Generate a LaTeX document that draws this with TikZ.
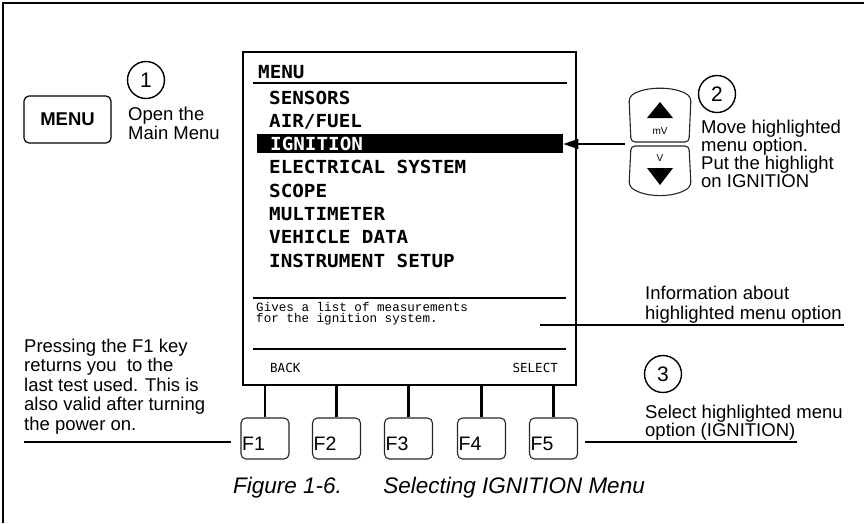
\documentclass[tikz,border=0pt]{standalone}
\usepackage{fontspec}
\setmainfont{Liberation Sans}
\newfontfamily\lcdfont{DejaVu Sans Mono}[FakeStretch=1.07]
\newfontfamily\lcdsoft{DejaVu Sans Mono}
\newfontfamily\lcdthin{Liberation Mono}
\usetikzlibrary{arrows.meta}
\tikzset{
  frameline/.style={line width=2pt},
  hardkey/.style={draw, line width=1.2pt, rounded corners=5pt, inner sep=0pt},
  btn/.style={draw=black!85, line width=1.1pt, rounded corners=4pt},
  fkey/.style={draw=black!85, line width=1.1pt, rounded corners=5pt, minimum width=48pt, minimum height=41pt, inner sep=0pt},
  fkeytext/.style={font=\fontsize{19.5}{19.5}\selectfont, inner sep=0pt, anchor=base west},
  note/.style={inner sep=0pt, anchor=base west, align=left},
  numcirc/.style={circle, draw, line width=1.4pt, minimum size=37pt, inner sep=0pt, font=\fontsize{21}{21}\selectfont},
  lcd/.style={font=\lcdfont\bfseries\fontsize{18}{18}\selectfont, inner sep=0pt, anchor=base west},
  desc/.style={font=\lcdthin\fontsize{12.6}{11}\selectfont, inner sep=0pt, anchor=base west, align=left},
  soft/.style={font=\lcdsoft\fontsize{12.5}{12.5}\selectfont, inner sep=0pt, anchor=base west},
  sep/.style={line width=1.1pt},
  stem/.style={line width=2.7pt},
  lead/.style={line width=1.6pt},
  ptr/.style={line width=1.8pt, -{Triangle[length=15pt, width=10pt]}},
  caption/.style={font=\itshape\fontsize{22.5}{22.5}\selectfont, inner sep=0pt}
}
\begin{document}
\begin{tikzpicture}[x=1pt,y=-1pt]
\useasboundingbox (0,0) rectangle (864,523);
% outer frame (top and left)
\coordinate (ftl) at (3,2.5);
\coordinate (ftr) at (864,2.5);
\coordinate (fbl) at (3,523);
\draw[frameline] (ftr) -- (ftl) -- (fbl);

% step 1
\node[hardkey, minimum width=87pt, minimum height=47pt, font=\bfseries\fontsize{18.5}{18.5}\selectfont] (menukey) at (67.5,119.5) {MENU};
\node[numcirc] (c1) at (146,80) {1};
\node[note, font=\fontsize{18.5}{16}\selectfont] (t1) at (128,139) {Open the\\Main Menu};

% screen
\node[draw, line width=2.4pt, minimum width=333pt, minimum height=333pt, inner sep=0pt] (screen) at (409.5,218.5) {};
\node[lcd] (mhead) at (258,78.3) {MENU};
\draw[sep] (253,83) -- (567,83);
\node[lcd] (m1) at (269,104) {SENSORS};
\node[lcd] (m2) at (269,127.3) {AIR/FUEL};
\node[fill=black, minimum width=306pt, minimum height=19pt, inner sep=0pt, anchor=west] (hl) at (257,143.5) {};
\node[lcd, text=white] (m3) at (270,150.6) {IGNITION};
\node[lcd] (m4) at (269,173.9) {ELECTRICAL SYSTEM};
\node[lcd] (m5) at (269,197.2) {SCOPE};
\node[lcd] (m6) at (269,220.5) {MULTIMETER};
\node[lcd] (m7) at (269,243.8) {VEHICLE DATA};
\node[lcd] (m8) at (269,267.1) {INSTRUMENT SETUP};
\draw[sep] (253,298) -- (566,298);
\node[desc] (dsc) at (256,322.5) {Gives a list of measurements\\for the ignition system.};
\draw[sep] (253,349) -- (566,349);
\node[soft] (back) at (270,372.5) {BACK};
\node[soft, anchor=base east] (select) at (558,372.5) {SELECT};

% function keys
\foreach \i/\x in {1/265,2/336.5,3/408.5,4/481.5,5/553.5} {
  \node[fkey] (f\i) at (\x,438.5) {};
  \node[fkeytext] (fl\i) at ([xshift=1.5pt, yshift=9pt]f\i.south west) {F\i};
  \draw[stem] (screen.south -| f\i.north) -- (f\i.north);
}

% step 2: arrow keys
\draw[btn] (631,142) -- (629,97) .. controls (645,86) and (675,86) .. (691,97) -- (689,142) -- cycle;
\fill (647,118) -- (673,118) -- (660,102) -- cycle;
\node[font=\fontsize{10}{10}\selectfont, inner sep=0pt] (mv) at (660,131) {mV};
\draw[btn] (631,146) -- (689,146) -- (691,186) .. controls (675,198) and (645,198) .. (629,186) -- cycle;
\fill (647,168) -- (673,168) -- (660,185) -- cycle;
\node[font=\fontsize{10}{10}\selectfont, inner sep=0pt] (vv) at (660,158) {V};
\coordinate (arrstart) at (625,144);
\draw[ptr] (arrstart) -- (arrstart -| hl.east);
\node[numcirc] (c2) at (717,94) {2};
\node[note, font=\fontsize{18.5}{16}\selectfont] (t2) at (701,187.5) {Move highlighted\\menu option.\\Put the highlight\\on IGNITION};

% information text
\node[note, font=\fontsize{18.5}{20}\selectfont] (info) at (645,319.5) {Information about\\highlighted menu option};
\coordinate (infoL) at (540,325);
\coordinate (infoR) at (844,325);
\draw[lead] (infoL) -- (infoR);

% step 3
\node[numcirc] (c3) at (663,374) {3};
\node[note, font=\fontsize{18.5}{18}\selectfont] (t3) at (645,436) {Select highlighted menu\\option (IGNITION)};
\coordinate (pr) at (797,442);
\draw[lead] ([xshift=7pt]f5.east |- pr) -- (pr);

% F1 note
\node[note, font=\fontsize{18.5}{19.5}\selectfont] (t4) at (24,430) {Pressing the F1 key\\returns you\ \ to the\\last test used. This is\\also valid after turning\\the power on.};
\coordinate (pl) at (24,442);
\draw[lead] (pl) -- ([xshift=-9pt]pl -| f1.west);

% caption
\node[caption, anchor=base west] (capa) at (233,493) {Figure 1-6.};
\node[caption, anchor=base east] (capb) at (645,493) {Selecting IGNITION Menu};
\end{tikzpicture}
\end{document}
